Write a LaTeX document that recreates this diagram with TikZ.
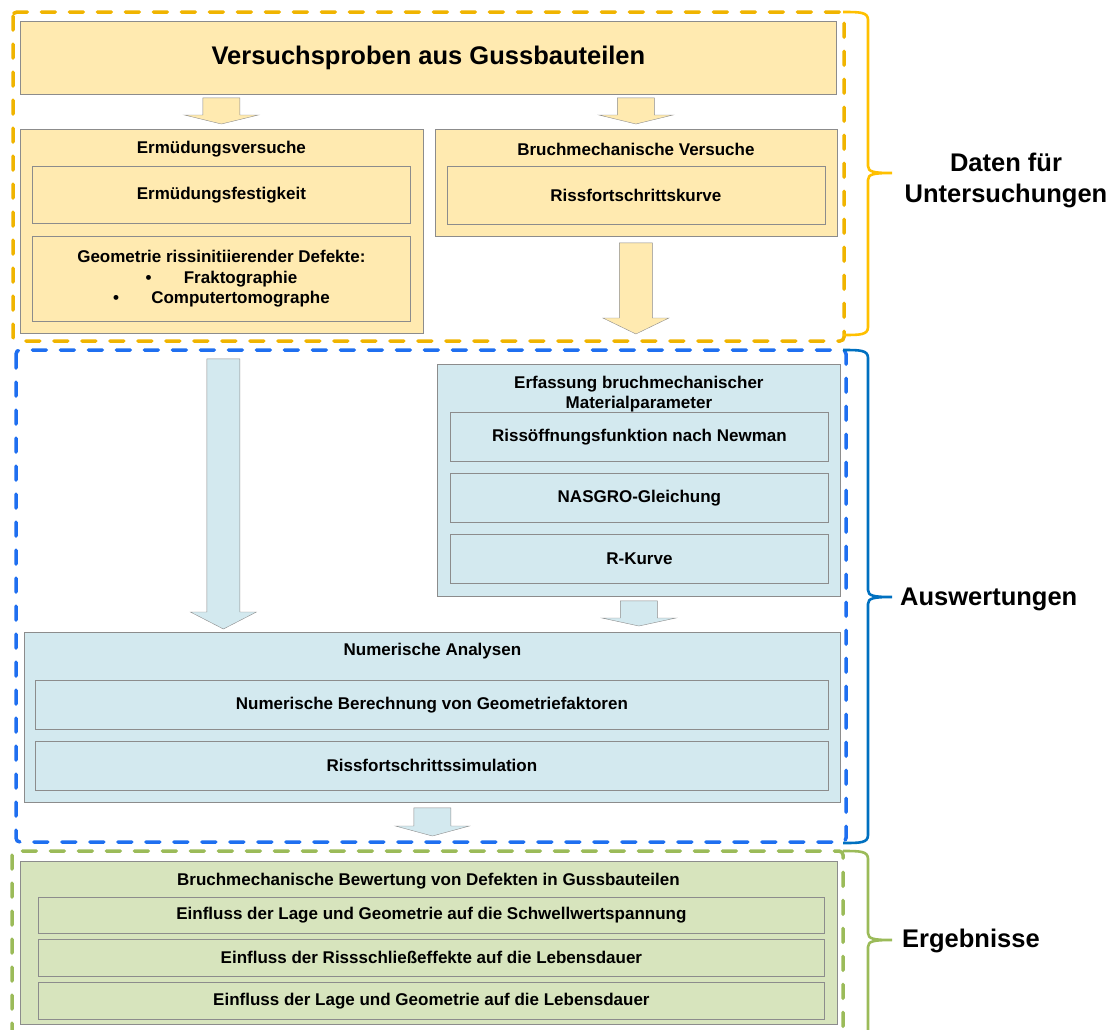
\documentclass[tikz,border=0pt]{standalone}
\usepackage{fontspec}
\setmainfont{Liberation Sans}
\usepackage{xcolor}
\usepackage{tikz}
\usetikzlibrary{calc}

\definecolor{yfill}{HTML}{FFEAB0}
\definecolor{bfill}{HTML}{D3E9EF}
\definecolor{gfill}{HTML}{D7E4BD}
\definecolor{boxgray}{HTML}{8C8C8C}
\definecolor{ydash}{HTML}{F0B400}
\definecolor{bdash}{HTML}{1F6FF0}
\definecolor{gdash}{HTML}{9BBB59}
\definecolor{ybrace}{HTML}{FFC000}
\definecolor{bbrace}{HTML}{0070C0}

\tikzset{
  box/.style={draw=boxgray, line width=0.8pt, inner sep=0pt, anchor=north west,
    align=center, font=\bfseries\fontsize{17}{20.5}\selectfont},
  ybox/.style={box, fill=yfill},
  bbox/.style={box, fill=bfill},
  gbox/.style={box, fill=gfill},
  title/.style={font=\bfseries\fontsize{17}{20.5}\selectfont, align=center, inner sep=0pt},
  region/.style={line width=3.5pt, dash pattern=on 14pt off 14pt, line cap=round, rounded corners=4pt},
  sidelabel/.style={font=\bfseries\fontsize{25.5}{31}\selectfont, align=center, inner sep=0pt}
}

% fat arrow: style, start, tip, half shaft width, head length
\newcommand{\blockarrow}[5]{%
  \draw[#1] let \p1=(#2), \p2=(#3) in
    (\x1-#4pt,\y1) -- (\x1+#4pt,\y1) -- (\x1+#4pt,\y2+#5pt) -- (\x1+2*#4pt,\y2+#5pt)
    -- (\x1,\y2) -- (\x1-2*#4pt,\y2+#5pt) -- (\x1-#4pt,\y2+#5pt) -- cycle;}

% brace on the right: colour, top, tip, bottom
\newcommand{\sidebrace}[4]{%
  \draw[#1, line width=2.6pt]
    (843,#2) .. controls (860,#2) and (868,#2) .. (868,#2+8) -- (868,#3-7)
    .. controls (868,#3-1) and (874,#3) .. (892,#3)
    .. controls (874,#3) and (868,#3+1) .. (868,#3+7) -- (868,#4-8)
    .. controls (868,#4) and (860,#4) .. (843,#4);}

\begin{document}
\begin{tikzpicture}[x=1pt, y=-1pt]
  \useasboundingbox (0,0) rectangle (1116,1029);

  % regions
  \draw[region, ydash] (13,12) rectangle (844,341);
  \draw[region, bdash] (16,350) rectangle (846,842);
  \draw[region, gdash] (12,851) rectangle (843,1045);

  % Daten fuer Untersuchungen
  \node (probe) [ybox, minimum width=816pt, minimum height=73pt] at (20,21)
    {\fontsize{25.5}{30}\selectfont Versuchsproben aus Gussbauteilen};
  \node (erm) [ybox, minimum width=403pt, minimum height=204pt] at (19.5,129) {};
  \node (ermt) [title] at ($(erm.north)+(0,20)$) {Ermüdungsversuche};
  \node (festig) [ybox, minimum width=378pt, minimum height=57pt] at (32,166) {Ermüdungsfestigkeit};
  \node (geom) [ybox, minimum width=378pt, minimum height=85pt] at (32,236)
    {Geometrie rissinitiierender Defekte:\\
     \textbullet\hspace{1.9em}Fraktographie\\
     \textbullet\hspace{1.9em}Computertomographe};
  \node (bruch) [ybox, minimum width=402pt, minimum height=107pt] at (434.5,129) {};
  \node (brucht) [title] at ($(bruch.north)+(0,20)$) {Bruchmechanische Versuche};
  \node (kurve) [ybox, minimum width=378pt, minimum height=58pt] at (446.5,166) {Rissfortschrittskurve};

  % Auswertungen
  \node (erf) [bbox, minimum width=403pt, minimum height=232pt] at (437,364) {};
  \node (erft) [title] at ($(erf.north)+(0,30)$) {Erfassung bruchmechanischer\\Materialparameter};
  \node (newman) [bbox, minimum width=378pt, minimum height=49pt] at (450,412) {Rissöffnungsfunktion nach Newman};
  \node (nasgro) [bbox, minimum width=378pt, minimum height=49pt] at (450,473) {NASGRO-Gleichung};
  \node (rkurve) [bbox, minimum width=378pt, minimum height=49pt] at (450,534) {R-Kurve};
  \node (num) [bbox, minimum width=816pt, minimum height=170pt] at (24,632) {};
  \node (numt) [title] at ($(num.north)+(0,19)$) {Numerische Analysen};
  \node (gfak) [bbox, minimum width=793pt, minimum height=49pt] at (35,680) {Numerische Berechnung von Geometriefaktoren};
  \node (sim) [bbox, minimum width=793pt, minimum height=49pt] at (35,741) {Rissfortschrittssimulation};

  % Ergebnisse
  \node (bew) [gbox, minimum width=817pt, minimum height=163pt] at (19.5,861) {};
  \node (bewt) [title] at ($(bew.north)+(0,20)$) {Bruchmechanische Bewertung von Defekten in Gussbauteilen};
  \node (schwell) [gbox, minimum width=786pt, minimum height=36pt] at (38,897) {Einfluss der Lage und Geometrie auf die Schwellwertspannung};
  \node (schliess) [gbox, minimum width=786pt, minimum height=37pt] at (38,939) {Einfluss der Rissschließeffekte auf die Lebensdauer};
  \node (lage) [gbox, minimum width=786pt, minimum height=37pt] at (38,982) {Einfluss der Lage und Geometrie auf die Lebensdauer};

  % arrows
  \coordinate (a1s) at ($(erm.north |- probe.south)+(0,3)$);
  \coordinate (a1e) at ($(erm.north)+(0,-5)$);
  \coordinate (a2s) at ($(bruch.north |- probe.south)+(0,3)$);
  \coordinate (a2e) at ($(bruch.north)+(0,-5)$);
  \coordinate (a3s) at ($(bruch.south)+(0,6)$);
  \coordinate (a3e) at ($(erf.north -| bruch.south)+(0,-30)$);
  \coordinate (a4s) at ($(erm.south)+(2,25)$);
  \coordinate (a4e) at ($(num.north -| erm.south)+(2,-3)$);
  \coordinate (a5s) at ($(erf.south)+(0,4)$);
  \coordinate (a5e) at ($(num.north -| erf.south)+(0,-6)$);
  \coordinate (a6s) at ($(num.south)+(0,5)$);
  \coordinate (a6e) at ($(bew.north)+(0,-25)$);
  \blockarrow{draw=boxgray, fill=yfill}{a1s}{a1e}{18.5}{9}
  \blockarrow{draw=boxgray, fill=yfill}{a2s}{a2e}{18.5}{9}
  \blockarrow{draw=boxgray, fill=yfill}{a3s}{a3e}{16.5}{16}
  \blockarrow{draw=boxgray, fill=bfill}{a4s}{a4e}{16.5}{17}
  \blockarrow{draw=boxgray, fill=bfill}{a5s}{a5e}{18.5}{8}
  \blockarrow{draw=boxgray, fill=bfill}{a6s}{a6e}{18.5}{10}

  % braces and labels
  \sidebrace{ybrace}{12}{173}{335}
  \sidebrace{bbrace}{350}{597}{843}
  \sidebrace{gdash}{851}{940}{1045}
  \node (daten) [sidelabel] at (1006,180) {Daten für\\Untersuchungen};
  \node (ausw) [sidelabel, anchor=west] at (900,599) {Auswertungen};
  \node (erg) [sidelabel, anchor=west] at (902,941) {Ergebnisse};
\end{tikzpicture}
\end{document}
